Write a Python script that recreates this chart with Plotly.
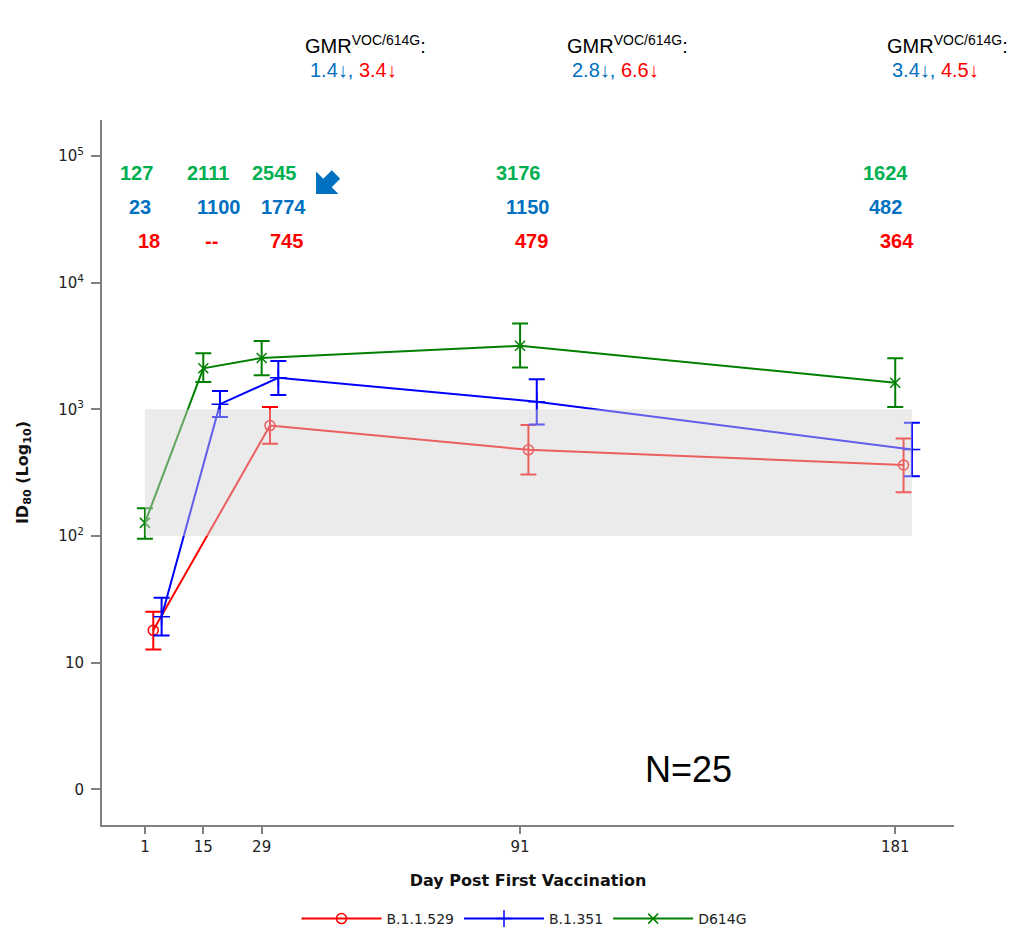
import plotly.graph_objects as go

# Sampling days and dodged variant traces
days = [1, 15, 29, 91, 181]
day_labels = ["1", "15", "29", "91", "181"]

variants = ["B.1.1.529", "B.1.351", "D614G"]

# Geometric mean ID80 titres with 95% CI bounds
b11529_gmt = [18, None, 745, 479, 364]
b11529_hi = [25.2, None, 1043, 751, 589]
b11529_lo = [12.7, None, 536, 306, 222]

b1351_gmt = [23, 1100, 1774, 1150, 482]
b1351_hi = [32.5, 1396, 2411, 1727, 785]
b1351_lo = [16.4, 869, 1298, 761, 297]

d614g_gmt = [127, 2111, 2545, 3176, 1624]
d614g_hi = [166, 2775, 3467, 4765, 2530]
d614g_lo = [95, 1644, 1857, 2138, 1043]

# GMR (VOC / 614G) fold drops at day 29, 91, 181: B.1.351 then B.1.1.529
gmr_days = [29, 91, 181]
gmr_b1351 = [1.4, 2.8, 3.4]
gmr_b11529 = [3.4, 6.6, 4.5]

y_tickvals = [1, 10, 100, 1000, 10000, 100000]
y_ticktext = ["0", "10", "10<sup>2</sup>", "10<sup>3</sup>", "10<sup>4</sup>", "10<sup>5</sup>"]

# ---------------------------------------------------------------- styling
W, H = 1013, 930
ML, MR, MT, MB = 102, 59, 120, 105
PW, PH = W - ML - MR, H - MT - MB


def px_x(p):
    return (p - ML) / PW


def px_y(p):
    return 1 - (p - MT) / PH


RED, BLUE, GREEN = "#ff0000", "#0000ff", "#008000"
TXT_GREEN, TXT_BLUE, TXT_RED = "#00b050", "#0070c0", "#ff0000"

series = [
    dict(name="B.1.1.529", y=b11529_gmt, hi=b11529_hi, lo=b11529_lo, color=RED,
         symbol="circle-open", size=10, dodge=2),
    dict(name="B.1.351", y=b1351_gmt, hi=b1351_hi, lo=b1351_lo, color=BLUE,
         symbol="cross-thin-open", size=12, dodge=4),
    dict(name="D614G", y=d614g_gmt, hi=d614g_hi, lo=d614g_lo, color=GREEN,
         symbol="x-thin-open", size=10, dodge=0),
]

fig = go.Figure()

for s in series:
    xs = [d + s["dodge"] for d in days]
    plus = [None if v is None else h - v for v, h in zip(s["y"], s["hi"])]
    minus = [None if v is None else v - l for v, l in zip(s["y"], s["lo"])]
    fig.add_trace(go.Scatter(
        x=xs, y=s["y"], name=s["name"], mode="lines+markers",
        connectgaps=True,
        line=dict(color=s["color"], width=2),
        marker=dict(symbol=s["symbol"], size=s["size"], color=s["color"],
                    line=dict(color=s["color"], width=1.5)),
        error_y=dict(type="data", symmetric=False, array=plus, arrayminus=minus,
                     color=s["color"], thickness=2, width=8),
    ))

# Shaded reference band (10^2 – 10^3) laid over the traces
fig.add_shape(type="rect", xref="x", yref="y", x0=days[0], x1=days[-1] + 4,
              y0=100, y1=1000, layer="above", line=dict(width=0),
              fillcolor="rgba(211,211,211,0.45)")

annotations = []

# Titre values above each time point
row_y = [173, 207, 241]
label_rows = [
    (d614g_gmt, TXT_GREEN, [-8, 5, 13, -2, -10]),
    (b1351_gmt, TXT_BLUE, [-5, 15, 22, 7, -10]),
    (b11529_gmt, TXT_RED, [4, 8, 25, 11, 2]),
]
for (vals, col, shifts), yp in zip(label_rows, row_y):
    for d, v, sh in zip(days, vals, shifts):
        annotations.append(dict(
            x=d, xref="x", xshift=sh, y=px_y(yp), yref="paper",
            text="<b>%s</b>" % ("--" if v is None else str(v)),
            showarrow=False, xanchor="center", yanchor="middle",
            font=dict(family="Liberation Sans, Arial", size=20, color=col),
        ))

# GMR headers
gmr_left = [303, 565, 885]
for d, b, r, xl in zip(gmr_days, gmr_b1351, gmr_b11529, gmr_left):
    annotations.append(dict(
        x=px_x(xl), xref="paper", y=px_y(45), yref="paper",
        text="GMR<sup>VOC/614G</sup>:", showarrow=False,
        xanchor="left", yanchor="middle",
        font=dict(family="Liberation Sans, Arial", size=20, color="#000000"),
    ))
    annotations.append(dict(
        x=px_x(xl + 5), xref="paper", y=px_y(70), yref="paper",
        text="<span style='color:%s'>%.1f↓,</span> <span style='color:%s'>%.1f↓</span>"
             % (TXT_BLUE, b, TXT_RED, r),
        showarrow=False, xanchor="left", yanchor="middle",
        font=dict(family="Liberation Sans, Arial", size=20),
    ))

# Sample size
annotations.append(dict(
    x=px_x(688), xref="paper", y=px_y(769), yref="paper", text="N=25",
    showarrow=False, xanchor="center", yanchor="middle",
    font=dict(family="Liberation Sans, Arial", size=36, color="#000000"),
))

# Block arrow pointing towards the day-29 values
arrow_pts = [(316, 194), (316, 171.5), (323.3, 178.8), (331.8, 170.3),
             (340.2, 178.7), (331.7, 187.2), (338.5, 194)]
path = "M " + " L ".join("%.4f,%.4f" % (px_x(a), px_y(b)) for a, b in arrow_pts) + " Z"
fig.add_shape(type="path", xref="paper", yref="paper", path=path,
              fillcolor=TXT_BLUE, line=dict(width=0), layer="above")

axis_font = dict(family="DejaVu Sans", size=15, color="#222222")
title_font = dict(family="DejaVu Sans", size=16, color="#111111")

fig.update_layout(
    width=W, height=H,
    margin=dict(l=ML, r=MR, t=MT, b=MB, pad=0, autoexpand=False),
    paper_bgcolor="white", plot_bgcolor="white",
    font=dict(family="DejaVu Sans", size=14, color="#222222"),
    annotations=annotations,
    showlegend=True,
    legend=dict(orientation="h", x=px_x(524), xanchor="center",
                y=px_y(919), yanchor="middle", itemwidth=80,
                font=dict(family="DejaVu Sans", size=14, color="#222222"),
                traceorder="normal"),
    xaxis=dict(
        range=[-9.3, 195.1], tickvals=days, ticktext=day_labels,
        showgrid=False, zeroline=False, showline=True, linecolor="#7f7f7f",
        linewidth=2, ticks="outside", ticklen=7, tickwidth=2, tickcolor="#7f7f7f",
        tickfont=axis_font,
        title=dict(text="<b>Day Post First Vaccination</b>", standoff=20,
                   font=title_font),
    ),
    yaxis=dict(
        type="log", range=[-0.282, 5.285], tickvals=y_tickvals, ticktext=y_ticktext,
        showgrid=False, zeroline=False, showline=True, linecolor="#7f7f7f",
        linewidth=2, ticks="outside", ticklen=9, tickwidth=2, tickcolor="#7f7f7f",
        ticklabelstandoff=4, tickfont=axis_font,
        title=dict(text="<b>ID<sub>80</sub> (Log<sub>10</sub>)</b>", standoff=26,
                   font=title_font),
    ),
)

fig.write_html("out.html")
